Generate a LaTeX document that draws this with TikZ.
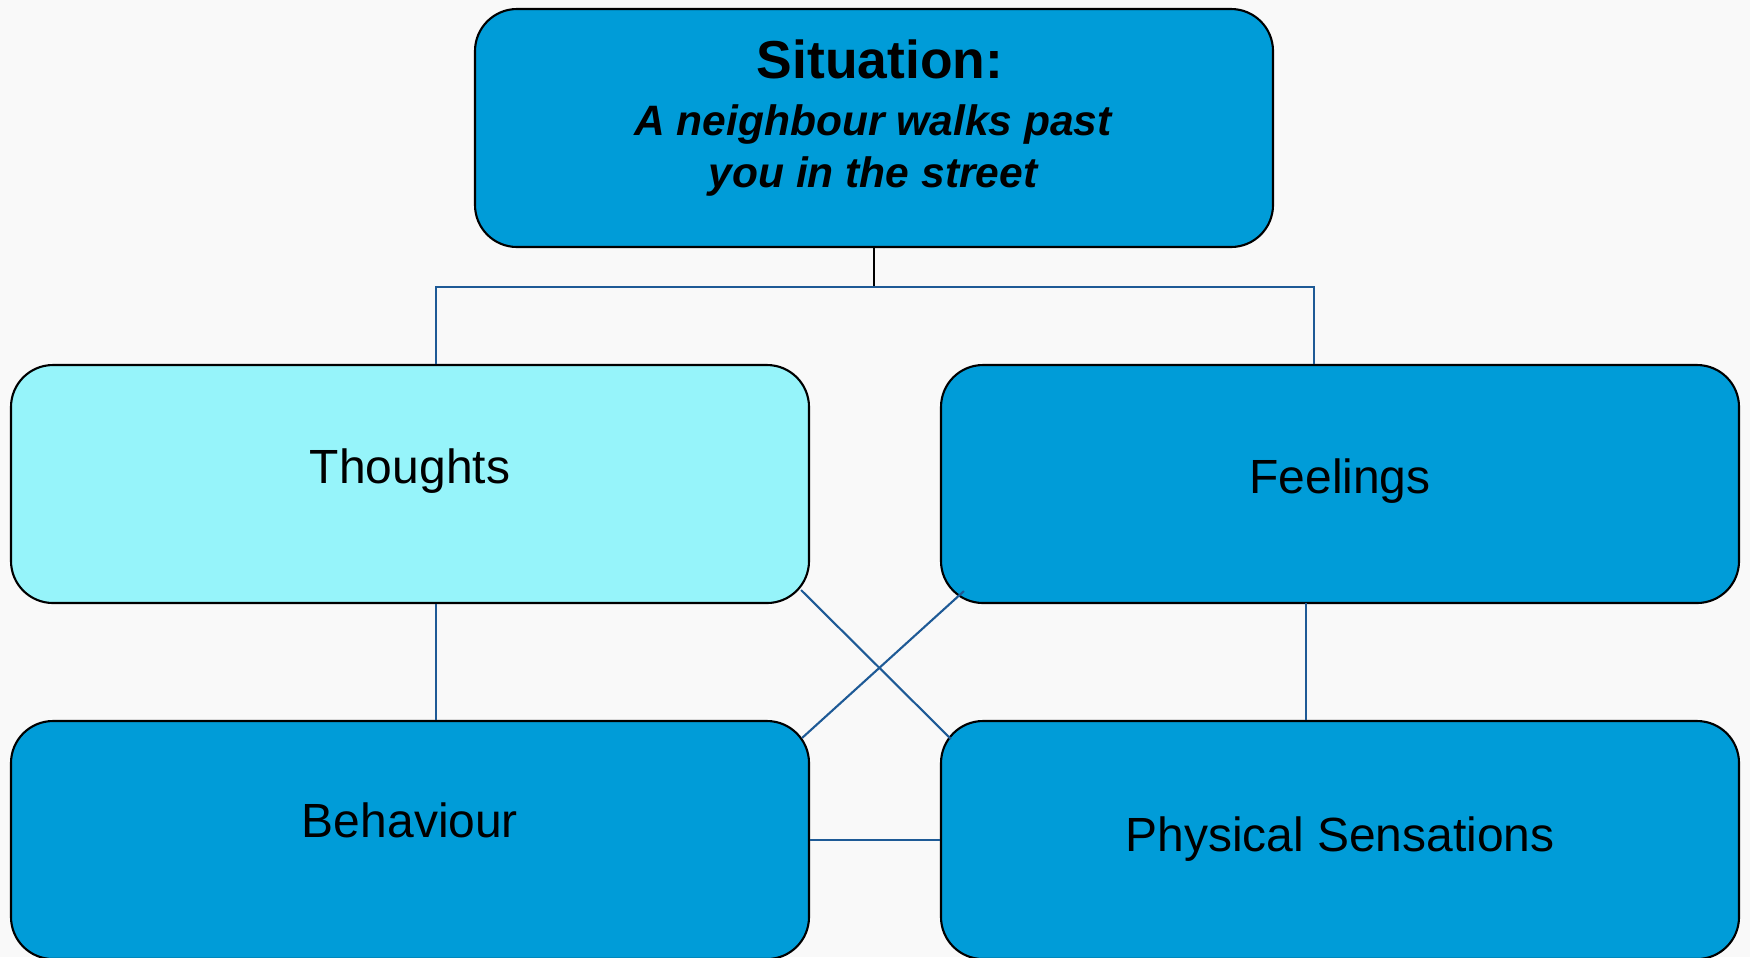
\documentclass[tikz,border=0pt]{standalone}
\usepackage{fontspec}
\setmainfont{Liberation Sans}
\definecolor{boxblue}{RGB}{0,156,216}
\definecolor{boxcyan}{RGB}{150,244,250}
\definecolor{linkblue}{RGB}{30,90,150}
\definecolor{paper}{RGB}{249,249,249}
\begin{document}
\begin{tikzpicture}[
  box/.style={draw=black, line width=0.6pt, rounded corners=0.42cm, minimum width=7.98cm, minimum height=2.38cm, inner sep=0pt},
  link/.style={draw=linkblue, line width=0.6pt},
  lbl/.style={anchor=base, font=\fontsize{13.65}{16}\selectfont}
]

\fill[paper] (0,0) rectangle (17.5,-9.57);
\useasboundingbox (0,0) rectangle (17.5,-9.57);
\clip (0,0) rectangle (17.5,-9.57);

% boxes
\node[box, fill=boxblue] (situation) at (8.74,-1.28) {};
\node[box, fill=boxcyan] (thoughts) at (4.10,-4.84) {};
\node[box, fill=boxblue] (feelings) at (13.40,-4.84) {};
\node[box, fill=boxblue] (behaviour) at (4.10,-8.40) {};
\node[box, fill=boxblue] (physical) at (13.40,-8.40) {};

% texts
\node[anchor=base, font=\bfseries\fontsize{15.2}{18}\selectfont] (sitTitle) at (8.80,-0.78) {Situation:};
\node[anchor=base, font=\bfseries\itshape\fontsize{12.1}{14.5}\selectfont] (sitLineA) at (8.73,-1.35) {A neighbour walks past};
\node[anchor=base, font=\bfseries\itshape\fontsize{12.1}{14.5}\selectfont] (sitLineB) at (8.73,-1.87) {you in the street};

\node[lbl] (thoughtsText) at ([yshift=0.01cm]thoughts.center) {Thoughts};
\node[lbl] (feelingsText) at ([yshift=-0.09cm]feelings.center) {Feelings};
\node[lbl] (behaviourText) at ([yshift=0.03cm]behaviour.center) {Behaviour};
\node[lbl] (physicalText) at ([yshift=-0.11cm]physical.center) {Physical Sensations};

% connectors
\coordinate (forkL) at (4.36,-2.87);
\coordinate (forkR) at (13.14,-2.87);
\coordinate (dropR) at (13.06,-6.03);

\draw[line width=0.6pt] (situation.south) -- (situation.south |- forkL);
\draw[link] (forkL |- thoughts.north) -- (forkL) -- (forkR) -- (forkR |- feelings.north);
\draw[link] (forkL |- thoughts.south) -- (forkL |- behaviour.north);
\draw[link] (dropR) -- (dropR |- physical.north);
\draw[link] (behaviour.east |- 0,-8.40) -- (physical.west);

\draw[link] ([shift={(-0.09,0.14)}]thoughts.south east) -- ([shift={(0.11,-0.19)}]physical.north west);
\draw[link] ([shift={(0.24,0.13)}]feelings.south west) -- ([shift={(-0.08,-0.18)}]behaviour.north east);

\end{tikzpicture}
\end{document}
